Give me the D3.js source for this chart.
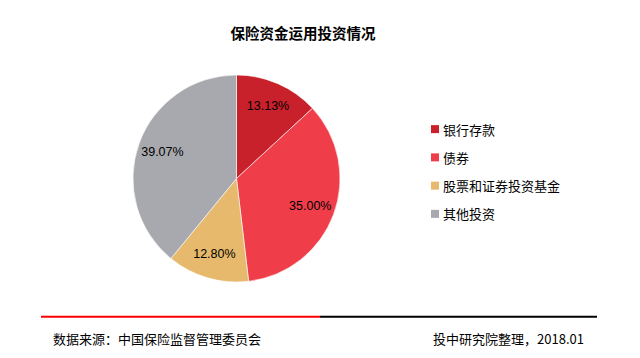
<!DOCTYPE html>
<html><head><meta charset="utf-8">
<script src="https://cdn.jsdelivr.net/npm/d3@7"></script>
<style>
html,body{margin:0;padding:0;background:#fff;}
svg{display:block;}
</style></head>
<body>
<svg id="c" width="640" height="358"></svg>
<script>
const categories = ["银行存款", "债券", "股票和证券投资基金", "其他投资"];
const values = [13.13, 35.00, 12.80, 39.07];
const colors = ["#C9212B", "#EF3E4A", "#E6B96C", "#A8A9AE"];
const title = "保险资金运用投资情况";
const sourceText = "数据来源：中国保险监督管理委员会";
const creditText = "投中研究院整理，2018.01";

const cjk = "'Noto Sans CJK SC', 'Liberation Sans', sans-serif";
const svg = d3.select("#c");

svg.append("text").attr("x", 303).attr("y", 32).attr("text-anchor", "middle")
  .attr("dominant-baseline", "central").attr("font-family", cjk)
  .attr("font-size", 14.5).attr("font-weight", "bold").attr("fill", "#000").text(title);

const cx = 236.5, cy = 178.5, r = 103.5;
const data = categories.map((c, i) => ({cat: c, val: values[i], color: colors[i]}));
const pie = d3.pie().sort(null).value(d => d.val);
const arcs = pie(data);
const arc = d3.arc().innerRadius(0).outerRadius(r);
const labelArc = d3.arc().innerRadius(r * 0.76).outerRadius(r * 0.76);
const g = svg.append("g").attr("transform", `translate(${cx},${cy})`);
g.selectAll("path").data(arcs).join("path").attr("d", arc)
  .attr("fill", d => d.data.color).attr("stroke", "#fff").attr("stroke-width", 0.6);
g.selectAll("text").data(arcs).join("text")
  .attr("transform", d => `translate(${labelArc.centroid(d)})`)
  .attr("text-anchor", "middle").attr("dominant-baseline", "central")
  .attr("font-family", "'Liberation Sans', Arial, sans-serif").attr("font-size", 12.5)
  .attr("fill", "#000").text(d => d3.format(".2f")(d.data.val) + "%");

const leg = d3.scaleBand().domain(categories).range([115, 228]);
const lg = svg.append("g");
categories.forEach((c, i) => {
  const y = leg(c) + leg.bandwidth() / 2;
  lg.append("rect").attr("x", 431).attr("y", y - 4).attr("width", 8).attr("height", 8).attr("fill", colors[i]);
  lg.append("text").attr("x", 443).attr("y", y).attr("dominant-baseline", "central")
    .attr("font-family", cjk).attr("font-size", 13).attr("fill", "#000").text(c);
});

svg.append("line").attr("x1", 41).attr("x2", 320).attr("y1", 316.7).attr("y2", 316.7)
  .attr("stroke", "#FF0000").attr("stroke-width", 2);
svg.append("line").attr("x1", 320).attr("x2", 597).attr("y1", 316.7).attr("y2", 316.7)
  .attr("stroke", "#000").attr("stroke-width", 2);

svg.append("text").attr("x", 53).attr("y", 338.5).attr("dominant-baseline", "central")
  .attr("font-family", cjk).attr("font-size", 13).attr("fill", "#000").text(sourceText);
svg.append("text").attr("x", 584).attr("y", 338.5).attr("text-anchor", "end").attr("dominant-baseline", "central")
  .attr("font-family", cjk).attr("font-size", 13).attr("fill", "#000").text(creditText);
</script>
</body></html>
